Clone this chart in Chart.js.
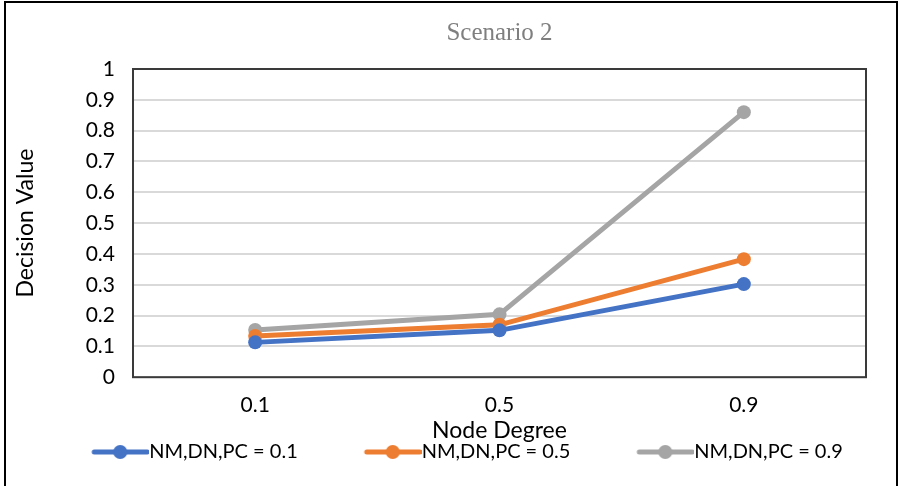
<!DOCTYPE html>
<html>
<head>
<meta charset="utf-8">
<script src="https://cdn.jsdelivr.net/npm/chart.js@4"></script>
<style>
  html, body { margin: 0; padding: 0; background: #fff; }
  #wrap { width: 900px; height: 486px; }
</style>
</head>
<body>
<div id="wrap">
  <canvas id="chart" width="900" height="486"></canvas>
</div>
<script>
  var nodeDegree = ['0.1', '0.5', '0.9'];
  var seriesNames = ['NM,DN,PC = 0.1', 'NM,DN,PC = 0.5', 'NM,DN,PC = 0.9'];
  var pc01 = [0.113, 0.152, 0.302];
  var pc05 = [0.134, 0.170, 0.383];
  var pc09 = [0.153, 0.204, 0.860];
  var colors = ['#4472C4', '#ED7D31', '#A5A5A5'];

  var swatchBox = 104;   // legend box width, leaves a gap before each swatch
  var legendFontSize = 20;

  // legend swatch: short line with a dot, drawn in the right part of the image
  function swatch(color) {
    var w = swatchBox + legendFontSize;
    var c = document.createElement('canvas');
    c.width = w; c.height = 16;
    var g = c.getContext('2d');
    var x0 = w - 58;
    g.strokeStyle = color; g.lineWidth = 5; g.lineCap = 'round';
    g.beginPath(); g.moveTo(x0 + 3, 8); g.lineTo(w - 2, 8); g.stroke();
    g.fillStyle = color;
    g.beginPath(); g.arc(x0 + 29, 8, 7, 0, Math.PI * 2); g.fill();
    return c;
  }

  var frame = {
    id: 'frame',
    afterDatasetsDraw: function(chart) {
      var ctx = chart.ctx, a = chart.chartArea;
      ctx.save();
      ctx.strokeStyle = '#3a3a3a';
      ctx.lineWidth = 2;
      ctx.strokeRect(a.left, a.top, a.right - a.left, a.bottom - a.top);
      ctx.restore();
    },
    afterDraw: function(chart) {
      var ctx = chart.ctx;
      ctx.save();
      ctx.strokeStyle = '#000';
      ctx.lineWidth = 2;
      ctx.strokeRect(5, 2, 892, 500);
      ctx.restore();
    }
  };

  var data = {
    labels: nodeDegree,
    datasets: [pc01, pc05, pc09].map(function(vals, i) {
      return {
        label: seriesNames[i],
        data: vals,
        borderColor: colors[i],
        backgroundColor: colors[i],
        borderWidth: 5,
        pointRadius: 7,
        pointHoverRadius: 7,
        pointBorderWidth: 0,
        fill: false,
        tension: 0
      };
    })
  };

  var tickFont = { family: 'Lato', size: 21 };

  var config = {
    type: 'line',
    data: data,
    plugins: [frame],
    options: {
      responsive: false,
      animation: false,
      layout: { padding: { left: 12, right: 34, top: 12, bottom: 14 } },
      plugins: {
        title: {
          display: true,
          fullSize: false,
          text: 'Scenario 2',
          color: '#7f7f7f',
          font: { family: 'Liberation Serif', size: 25, weight: 'normal' },
          padding: { top: 6, bottom: 21 }
        },
        legend: {
          position: 'bottom',
          labels: {
            usePointStyle: true,
            pointStyleWidth: swatchBox,
            color: '#000',
            font: { family: 'Lato', size: legendFontSize },
            padding: 10,
            generateLabels: function(chart) {
              return chart.data.datasets.map(function(ds, i) {
                return {
                  text: ds.label,
                  pointStyle: swatch(colors[i]),
                  fillStyle: colors[i],
                  strokeStyle: colors[i],
                  lineWidth: 0,
                  datasetIndex: i,
                  hidden: false
                };
              });
            }
          }
        },
        tooltip: { enabled: false }
      },
      scales: {
        x: {
          offset: true,
          grid: { display: false, drawTicks: false },
          border: { display: false },
          ticks: { color: '#000', font: tickFont, padding: 15 },
          title: {
            display: true,
            text: 'Node Degree',
            color: '#000',
            font: { family: 'Lato', size: 23 },
            padding: { top: -16, bottom: -12 }
          }
        },
        y: {
          min: 0,
          max: 1,
          ticks: { stepSize: 0.1, color: '#000', font: tickFont, padding: 18,
                   callback: function(v) { return Math.round(v * 10) / 10; } },
          grid: { color: '#d9d9d9', lineWidth: 2, drawTicks: false },
          border: { display: false },
          title: {
            display: true,
            text: 'Decision Value',
            color: '#000',
            font: { family: 'Lato', size: 23 },
            padding: { top: 0, bottom: 8 }
          },
          afterFit: function(scale) { scale.width = 121; }
        }
      }
    }
  };

  var chart = new Chart(document.getElementById('chart'), config);
</script>
</body>
</html>
